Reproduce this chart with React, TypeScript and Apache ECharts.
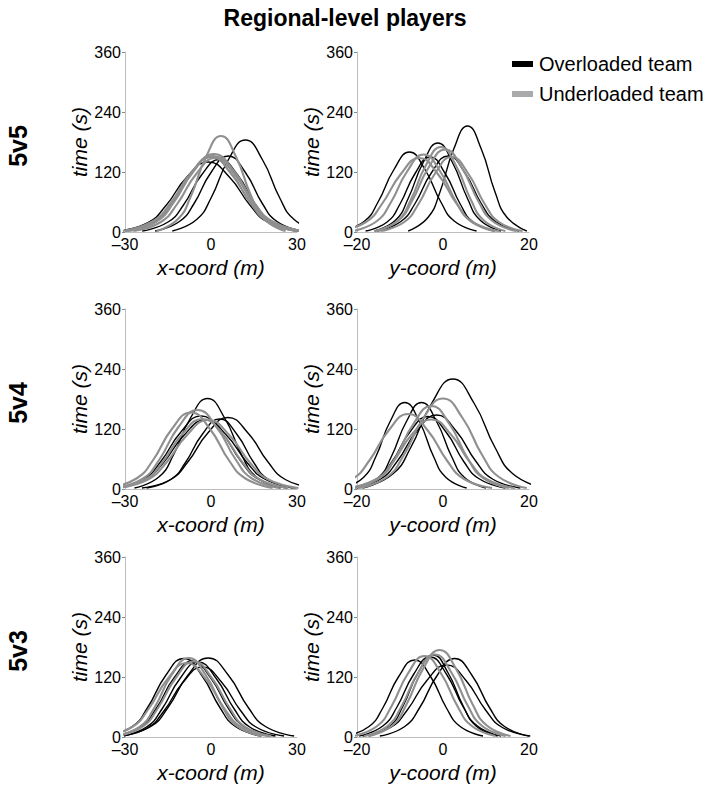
import React, { useEffect, useRef } from "react";
import * as echarts from "echarts";

const TITLE = "Regional-level players";
const ROW_LABELS = ["5v5", "5v4", "5v3"];
const X_TICKS = [-30, 0, 30];
const Y_TICKS = [-20, 0, 20];
const TIME_TICKS = [0, 120, 240, 360];
const COL_NAMES = ["x-coord (m)", "y-coord (m)"];
const TIME_NAME = "time (s)";
const OVER = "Overloaded team";
const UNDER = "Underloaded team";

// ---- 5v5, x-coord (m) vs time (s)
const r55xOver = [
  [[-13.5, 2], [-5, 25], [0.1, 69], [6, 144], [12, 184], [18, 144], [23.9, 69], [29, 25], [37.5, 2]],
  [[-19.5, 2], [-11, 21], [-5.9, 57], [0, 119], [6, 152], [12, 119], [17.9, 57], [23, 21], [31.5, 2]],
  [[-24, 2], [-15, 20], [-9.6, 54], [-3.3, 114], [3, 145], [9.3, 114], [15.6, 54], [21, 20], [30, 2]],
  [[-30, 2], [-20, 20], [-14, 56], [-7, 117], [0, 150], [7, 117], [14, 56], [20, 20], [30, 2]],
  [[-32.5, 2], [-22, 19], [-15.7, 53], [-8.4, 110], [-1, 140], [6.4, 110], [13.7, 53], [20, 19], [30.5, 2]],
];
const r55xUnder = [
  [[-19, 2], [-11.5, 26], [-7, 72], [-1.75, 150], [3.5, 192], [8.75, 150], [14, 72], [18.5, 26], [26, 2]],
  [[-29, 2], [-19, 21], [-13, 59], [-6, 122], [1, 156], [8, 122], [15, 59], [21, 21], [31, 2]],
  [[-31, 2], [-20.5, 21], [-14.2, 57], [-6.85, 119], [0.5, 152], [7.85, 119], [15.2, 57], [21.5, 21], [32, 2]],
  [[-30, 2], [-20, 20], [-14, 56], [-7, 117], [0, 150], [7, 117], [14, 56], [20, 20], [30, 2]],
  [[-27, 2], [-17.5, 20], [-11.8, 56], [-5.15, 116], [1.5, 148], [8.15, 116], [14.8, 56], [20.5, 20], [30, 2]],
];

// ---- 5v5, y-coord (m) vs time (s)
const r55yOver = [
  [[-8.1, 2], [-3.5, 29], [-0.7, 80], [2.5, 166], [5.7, 212], [8.9, 166], [12.1, 80], [14.9, 29], [19.5, 2]],
  [[-23.4, 2], [-18.2, 22], [-15.1, 60], [-11.4, 125], [-7.8, 160], [-4.2, 125], [-0.5, 60], [2.6, 22], [7.8, 2]],
  [[-15.9, 2], [-11, 24], [-8.1, 67], [-4.6, 139], [-1.2, 178], [2.2, 139], [5.7, 67], [8.6, 24], [13.5, 2]],
  [[-15.3, 2], [-9.8, 21], [-6.5, 57], [-2.65, 119], [1.2, 152], [5.05, 119], [8.9, 57], [12.2, 21], [17.7, 2]],
  [[-18, 2], [-13, 20], [-10, 56], [-6.5, 117], [-3, 150], [0.5, 117], [4, 56], [7, 20], [12, 2]],
];
const r55yUnder = [
  [[-24.1, 2], [-17.9, 20], [-14.2, 56], [-9.8, 116], [-5.5, 148], [-1.2, 116], [3.2, 56], [6.9, 20], [13.1, 2]],
  [[-21, 2], [-15.5, 21], [-12.2, 58], [-8.35, 121], [-4.5, 155], [-0.65, 121], [3.2, 58], [6.5, 21], [12, 2]],
  [[-15.5, 2], [-10.5, 23], [-7.5, 64], [-4, 133], [-0.5, 170], [3, 133], [6.5, 64], [9.5, 23], [14.5, 2]],
  [[-16, 2], [-10.5, 22], [-7.2, 62], [-3.35, 129], [0.5, 165], [4.35, 129], [8.2, 62], [11.5, 22], [17, 2]],
  [[-14.5, 2], [-9, 20], [-5.7, 56], [-1.85, 117], [2, 150], [5.85, 117], [9.7, 56], [13, 20], [18.5, 2]],
];

// ---- 5v4, x-coord
const r54xOver = [
  [[-26.7, 2], [-18.2, 24], [-13.1, 68], [-7.15, 142], [-1.2, 181], [4.75, 142], [10.7, 68], [15.8, 24], [24.3, 2]],
  [[-33.5, 2], [-23.5, 20], [-17.5, 55], [-10.5, 114], [-3.5, 146], [3.5, 114], [10.5, 55], [16.5, 20], [26.5, 2]],
  [[-24.1, 2], [-14.1, 19], [-8.1, 54], [-1.1, 112], [5.9, 143], [12.9, 112], [19.9, 54], [25.9, 19], [35.9, 2]],
  [[-22.5, 2], [-14, 19], [-8.9, 53], [-2.95, 110], [3, 140], [8.95, 110], [14.9, 53], [20, 19], [28.5, 2]],
  [[-33.5, 2], [-23, 19], [-16.7, 52], [-9.35, 108], [-2, 138], [5.35, 108], [12.7, 52], [19, 19], [29.5, 2]],
];
const r54xUnder = [
  [[-35.5, 2], [-26, 21], [-20.3, 57], [-13.65, 120], [-7, 153], [-0.35, 120], [6.3, 57], [12, 21], [21.5, 2]],
  [[-33.2, 2], [-23.7, 21], [-18, 59], [-11.35, 124], [-4.7, 158], [1.95, 124], [8.6, 59], [14.3, 21], [23.8, 2]],
  [[-33, 2], [-23, 19], [-17, 53], [-10, 110], [-3, 140], [4, 110], [11, 53], [17, 19], [27, 2]],
  [[-32.5, 2], [-22, 19], [-15.7, 52], [-8.35, 108], [-1, 138], [6.35, 108], [13.7, 52], [20, 19], [30.5, 2]],
];

// ---- 5v4, y-coord
const r54yOver = [
  [[-18.7, 2], [-11.7, 30], [-7.5, 83], [-2.6, 172], [2.3, 220], [7.2, 172], [12.1, 83], [16.3, 30], [23.3, 2]],
  [[-23.3, 2], [-18.5, 23], [-15.6, 65], [-12.3, 135], [-8.9, 173], [-5.5, 135], [-2.2, 65], [0.7, 23], [5.5, 2]],
  [[-20, 2], [-15, 23], [-12, 65], [-8.5, 135], [-5, 173], [-1.5, 135], [2, 65], [5, 23], [10, 2]],
  [[-21, 2], [-14.5, 20], [-10.6, 56], [-6.05, 116], [-1.5, 148], [3.05, 116], [7.6, 56], [11.5, 20], [18, 2]],
  [[-21.5, 2], [-15.5, 20], [-11.9, 54], [-7.7, 114], [-3.5, 145], [0.7, 114], [4.9, 54], [8.5, 20], [14.5, 2]],
];
const r54yUnder = [
  [[-19.5, 2], [-13, 24], [-9.1, 68], [-4.55, 142], [0, 181], [4.55, 142], [9.1, 68], [13, 24], [19.5, 2]],
  [[-27.6, 2], [-21.1, 20], [-17.2, 56], [-12.65, 117], [-8.1, 150], [-3.55, 117], [1, 56], [4.9, 20], [11.4, 2]],
  [[-20.7, 2], [-14.7, 22], [-11.1, 62], [-6.9, 130], [-2.7, 166], [1.5, 130], [5.7, 62], [9.3, 22], [15.3, 2]],
  [[-22.2, 2], [-15.7, 19], [-11.8, 52], [-7.25, 109], [-2.7, 139], [1.85, 109], [6.4, 52], [10.3, 19], [16.8, 2]],
];

// ---- 5v3, x-coord
const r53xOver = [
  [[-31, 2], [-21, 21], [-15, 59], [-8, 124], [-1, 158], [6, 124], [13, 59], [19, 21], [29, 2]],
  [[-36.5, 2], [-27.5, 21], [-22.1, 59], [-15.8, 123], [-9.5, 157], [-3.2, 123], [3.1, 59], [8.5, 21], [17.5, 2]],
  [[-31.5, 2], [-22.5, 20], [-17.1, 56], [-10.8, 117], [-4.5, 150], [1.8, 117], [8.1, 56], [13.5, 20], [22.5, 2]],
  [[-31.5, 2], [-22, 19], [-16.3, 53], [-9.65, 110], [-3, 140], [3.65, 110], [10.3, 53], [16, 19], [25.5, 2]],
  [[-33.5, 2], [-24.5, 21], [-19.1, 57], [-12.8, 119], [-6.5, 152], [-0.2, 119], [6.1, 57], [11.5, 21], [20.5, 2]],
];
const r53xUnder = [
  [[-33.3, 2], [-24.8, 21], [-19.7, 59], [-13.75, 124], [-7.8, 158], [-1.85, 124], [4.1, 59], [9.2, 21], [17.7, 2]],
  [[-33, 2], [-24, 20], [-18.6, 57], [-12.3, 118], [-6, 151], [0.3, 118], [6.6, 57], [12, 20], [21, 2]],
  [[-37, 2], [-27.5, 20], [-21.8, 56], [-15.15, 116], [-8.5, 148], [-1.85, 116], [4.8, 56], [10.5, 20], [20, 2]],
];

// ---- 5v3, y-coord
const r53yOver = [
  [[-22.5, 2], [-17.2, 21], [-14, 58], [-10.3, 121], [-6.6, 154], [-2.9, 121], [0.8, 58], [4, 21], [9.3, 2]],
  [[-14.7, 2], [-8.9, 21], [-5.4, 59], [-1.36, 123], [2.7, 157], [6.76, 123], [10.8, 59], [14.3, 21], [20.1, 2]],
  [[-17.3, 2], [-12.3, 22], [-9.3, 62], [-5.8, 128], [-2.3, 164], [1.2, 128], [4.7, 62], [7.7, 22], [12.7, 2]],
  [[-18.7, 2], [-12.2, 19], [-8.3, 54], [-3.75, 113], [0.8, 144], [5.35, 113], [9.9, 54], [13.8, 19], [20.3, 2]],
  [[-19.5, 2], [-14, 22], [-10.7, 60], [-6.85, 125], [-3, 160], [0.85, 125], [4.7, 60], [8, 22], [13.5, 2]],
];
const r53yUnder = [
  [[-17.3, 2], [-11.8, 23], [-8.5, 65], [-4.65, 136], [-0.8, 174], [3.05, 136], [6.9, 65], [10.2, 23], [15.7, 2]],
  [[-18.4, 2], [-12.9, 22], [-9.6, 62], [-5.75, 129], [-1.9, 165], [1.95, 129], [5.8, 62], [9.1, 22], [14.6, 2]],
  [[-20.8, 2], [-15.3, 22], [-12, 61], [-8.15, 127], [-4.3, 162], [-0.45, 127], [3.4, 61], [6.7, 22], [12.2, 2]],
];

const PANELS = [
  [r55xOver, r55xUnder], [r55yOver, r55yUnder],
  [r54xOver, r54xUnder], [r54yOver, r54yUnder],
  [r53xOver, r53xUnder], [r53yOver, r53yUnder],
];

// layout / style
const FONT = "Liberation Sans, Arial, Helvetica, sans-serif";
const GRID_LEFT = [125, 357];
const GRID_TOP = [52, 309, 557];
const GRID_W = 172;
const GRID_H = 180;
const BLACK = "#000000";
const GRAY = "#8f8f8f";
const AXIS_GRAY = "#bdbdbd";

const dash = (v: number) => String(v).replace("-", "\u2013");

export default function App() {
  const ref = useRef<HTMLDivElement>(null);
  useEffect(() => {
    if (!ref.current) return;
    const chart = echarts.init(ref.current, undefined, { renderer: "svg" });
    const grid: any[] = [];
    const xAxis: any[] = [];
    const yAxis: any[] = [];
    const series: any[] = [];
    PANELS.forEach((panel, i) => {
      const r = Math.floor(i / 2);
      const c = i % 2;
      const ticks = c === 0 ? X_TICKS : Y_TICKS;
      grid.push({ left: GRID_LEFT[c], top: GRID_TOP[r], width: GRID_W, height: GRID_H });
      xAxis.push({
        type: "value",
        gridIndex: i,
        min: ticks[0],
        max: ticks[ticks.length - 1],
        interval: ticks[1] - ticks[0],
        name: COL_NAMES[c],
        nameLocation: "middle",
        nameGap: 25,
        nameTextStyle: { fontFamily: FONT, fontSize: 21, fontStyle: "italic", color: "#000" },
        axisLine: { show: true, onZero: false, lineStyle: { color: AXIS_GRAY, width: 1 } },
        axisTick: { show: false },
        splitLine: { show: false },
        axisLabel: { fontFamily: FONT, fontSize: 16, color: "#000", margin: 4, formatter: dash },
      });
      yAxis.push({
        type: "value",
        gridIndex: i,
        min: TIME_TICKS[0],
        max: TIME_TICKS[TIME_TICKS.length - 1],
        interval: TIME_TICKS[1] - TIME_TICKS[0],
        name: TIME_NAME,
        nameLocation: "middle",
        nameGap: 34,
        nameTextStyle: { fontFamily: FONT, fontSize: 21, fontStyle: "italic", color: "#000" },
        axisLine: { show: true, onZero: false, lineStyle: { color: AXIS_GRAY, width: 1 } },
        axisTick: { show: true, length: 3, lineStyle: { color: "#888" } },
        splitLine: { show: false },
        axisLabel: { fontFamily: FONT, fontSize: 16, color: "#000", margin: 4 },
      });
      const [over, under] = panel;
      over.forEach((curve) => {
        series.push({
          type: "line", name: OVER, xAxisIndex: i, yAxisIndex: i, data: curve,
          smooth: 0.5, showSymbol: false, silent: true,
          lineStyle: { color: BLACK, width: 1.4 }, itemStyle: { color: BLACK },
        });
      });
      under.forEach((curve) => {
        series.push({
          type: "line", name: UNDER, xAxisIndex: i, yAxisIndex: i, data: curve,
          smooth: 0.5, showSymbol: false, silent: true,
          lineStyle: { color: GRAY, width: 2.1 }, itemStyle: { color: GRAY },
        });
      });
    });

    const graphic: any[] = [
      {
        type: "text", x: 345, y: 18,
        style: { text: TITLE, fontFamily: FONT, fontSize: 23, fontWeight: "bold", fill: "#000", textAlign: "center", textVerticalAlign: "middle" },
      },
    ];
    ROW_LABELS.forEach((lab, r) => {
      graphic.push({
        type: "text", x: 18, y: GRID_TOP[r] + GRID_H / 2 + 4, rotation: Math.PI / 2,
        style: { text: lab, fontFamily: FONT, fontSize: 25, fontWeight: "bold", fill: "#000", textAlign: "center", textVerticalAlign: "middle" },
      });
    });

    chart.setOption({
      animation: false,
      backgroundColor: "#ffffff",
      grid, xAxis, yAxis, series, graphic,
      legend: {
        orient: "vertical",
        left: 512,
        top: 54,
        padding: 0,
        itemWidth: 21,
        itemHeight: 6,
        itemGap: 10,
        icon: "rect",
        selectedMode: false,
        textStyle: { fontFamily: FONT, fontSize: 20, color: "#000", padding: [0, 0, 0, 1] },
        data: [
          { name: OVER, itemStyle: { color: "#000" } },
          { name: UNDER, itemStyle: { color: "#aaaaaa" } },
        ],
      },
    });
    return () => chart.dispose();
  }, []);
  return <div ref={ref} style={{ position: "fixed", left: 0, top: 0, width: 713, height: 785 }} />;
}
